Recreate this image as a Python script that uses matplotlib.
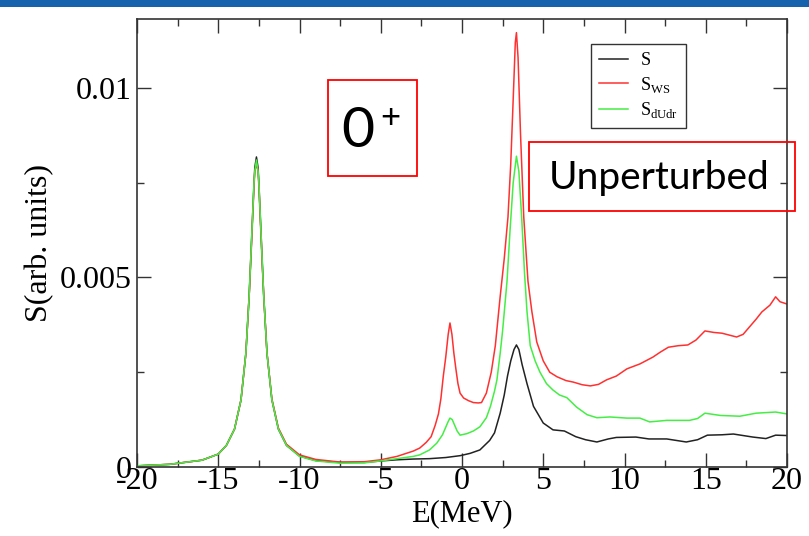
import numpy as np
import matplotlib.pyplot as plt
from matplotlib.patches import Rectangle
from matplotlib.ticker import MultipleLocator

plt.rcParams['font.family'] = ['Liberation Serif', 'DejaVu Serif']
plt.rcParams['mathtext.fontset'] = 'custom'
plt.rcParams['mathtext.rm'] = 'Liberation Serif'
plt.rcParams['axes.unicode_minus'] = False

# S (black)
e_s = [-20, -18, -16, -15, -14.5, -14, -13.6, -13.3, -13.1, -13.0, -12.9, -12.8, -12.75,
       -12.65, -12.55, -12.5, -12.4, -12.3, -12.2, -12.0, -11.7, -11.3, -10.8, -10, -9,
       -7.5, -6, -5, -4, -3, -2, -1, -0.1, 0.5, 1.1, 1.7, 2.0, 2.35, 2.6, 2.8, 3.0, 3.2,
       3.35, 3.5, 3.7, 4.0, 4.4, 5.0, 5.6, 6.3, 7.0, 7.6, 8.3, 9.0, 9.5, 10.7, 11.5, 12.6,
       13.8, 14.5, 15.1, 16.0, 16.7, 17.9, 18.7, 19.3, 20]
s_s = [0.00003, 0.00007, 0.00018, 0.00034, 0.00057, 0.001, 0.00177, 0.003, 0.0045, 0.0055,
       0.0065, 0.0075, 0.0079, 0.00818, 0.0079, 0.0075, 0.0065, 0.0055, 0.0045, 0.003,
       0.00177, 0.001, 0.00057, 0.00029, 0.00017, 0.00012, 0.00012, 0.00016, 0.00019,
       0.00021, 0.00022, 0.00025, 0.0003, 0.00036, 0.00045, 0.0007, 0.0009, 0.00142, 0.0019,
       0.0024, 0.0028, 0.0031, 0.00322, 0.0031, 0.0027, 0.0022, 0.0016, 0.00116, 0.00098,
       0.00095, 0.0008, 0.00072, 0.00066, 0.00074, 0.00078, 0.00079, 0.00074, 0.00074,
       0.00066, 0.00072, 0.00084, 0.00085, 0.00087, 0.00079, 0.00075, 0.00084, 0.00083]

# S_WS (red)
e_ws = [-20, -18, -16, -15, -14.5, -14, -13.6, -13.3, -13.1, -13.0, -12.9, -12.8, -12.75,
        -12.65, -12.55, -12.5, -12.4, -12.3, -12.2, -12.0, -11.7, -11.3, -10.8, -10, -9,
        -7.5, -6, -5, -4, -3, -2.6, -2.2, -1.9, -1.65, -1.45, -1.3, -1.15, -1.0, -0.85,
        -0.74, -0.62, -0.5, -0.38, -0.25, -0.12, 0.1, 0.4, 0.7, 1.0, 1.2, 1.5, 1.8, 2.05,
        2.35, 2.6, 2.83, 3.0, 3.15, 3.28, 3.35, 3.45, 3.6, 3.8, 4.06, 4.3, 4.6, 5.0, 5.4,
        5.85, 6.4, 6.85, 7.4, 7.9, 8.4, 8.9, 9.5, 10.15, 10.95, 11.75, 12.2, 12.7, 13.3,
        13.9, 14.4, 14.95, 15.5, 16.0, 16.9, 17.3, 17.7, 18.1, 18.45, 18.95, 19.3, 19.57, 20]
s_ws = [0.00003, 0.00007, 0.00018, 0.00034, 0.00057, 0.001, 0.00177, 0.003, 0.0045, 0.0054,
        0.0064, 0.0074, 0.0078, 0.0080, 0.0078, 0.0074, 0.0064, 0.0054, 0.0045, 0.003,
        0.0018, 0.00103, 0.0006, 0.00032, 0.0002, 0.00013, 0.00014, 0.00019, 0.00028,
        0.00042, 0.0005, 0.00065, 0.0008, 0.0011, 0.0014, 0.0018, 0.0024, 0.0029, 0.0035,
        0.0038, 0.0035, 0.003, 0.0026, 0.0022, 0.00195, 0.00182, 0.00175, 0.0017, 0.00169,
        0.0017, 0.00195, 0.0025, 0.0032, 0.0045, 0.0055, 0.0066, 0.008, 0.0097, 0.0112,
        0.01146, 0.0108, 0.0088, 0.0066, 0.0049, 0.0041, 0.0033, 0.0028, 0.0025, 0.00238,
        0.00228, 0.00224, 0.00217, 0.00214, 0.00218, 0.0023, 0.0024, 0.00259, 0.00272,
        0.0029, 0.00303, 0.00316, 0.0032, 0.00322, 0.00335, 0.00359, 0.00355, 0.00353,
        0.00343, 0.0035, 0.0037, 0.0039, 0.00409, 0.00427, 0.00449, 0.00436, 0.0043]

# S_dUdr (green)
e_du = [-20, -18, -16, -15, -14.5, -14, -13.6, -13.3, -13.1, -13.0, -12.9, -12.8, -12.75,
        -12.65, -12.55, -12.5, -12.4, -12.3, -12.2, -12.0, -11.7, -11.3, -10.8, -10, -9,
        -7.5, -6, -5, -4, -3, -2.6, -2.0, -1.55, -1.2, -1.0, -0.85, -0.74, -0.6, -0.45,
        -0.3, -0.12, 0.3, 0.7, 1.1, 1.5, 1.75, 2.0, 2.15, 2.35, 2.5, 2.77, 2.95, 3.15, 3.35,
        3.5, 3.67, 3.85, 4.0, 4.2, 4.5, 4.8, 5.2, 5.6, 6.0, 6.45, 7.05, 7.7, 8.3, 9.1, 10.15,
        10.95, 11.55, 12.6, 14.0, 14.5, 14.95, 15.9, 17.1, 18.1, 19.3, 20]
s_du = [0.00003, 0.00007, 0.00018, 0.00034, 0.00057, 0.001, 0.00177, 0.003, 0.0045, 0.0055,
        0.0065, 0.0075, 0.0078, 0.0081, 0.0078, 0.0075, 0.0065, 0.0055, 0.0045, 0.003,
        0.00177, 0.001, 0.00057, 0.00028, 0.00016, 0.0001, 0.00011, 0.00016, 0.00022,
        0.00028, 0.00032, 0.00045, 0.00063, 0.00085, 0.00105, 0.0012, 0.00129, 0.00125,
        0.0011, 0.00095, 0.00084, 0.00088, 0.00095, 0.00106, 0.0013, 0.0016, 0.002, 0.0023,
        0.003, 0.0036, 0.0049, 0.0062, 0.0075, 0.0082, 0.0078, 0.0066, 0.0051, 0.0041,
        0.0032, 0.0028, 0.0025, 0.0022, 0.00203, 0.0019, 0.00183, 0.00158, 0.00138, 0.0013,
        0.00132, 0.00129, 0.00129, 0.00119, 0.00123, 0.00123, 0.00128, 0.00142, 0.00136,
        0.00134, 0.00142, 0.00145, 0.0014]

fig = plt.figure(figsize=(8.09, 5.36), dpi=100)
ax = fig.add_axes([137 / 809, 69 / 536, 650 / 809, 448 / 536])

ax.plot(e_s, s_s, color='#222222', lw=1.1, label='S')
ax.plot(e_ws, s_ws, color='#ff3030', lw=1.1, label=r'S$_{\mathrm{WS}}$')
ax.plot(e_du, s_du, color='#44ee44', lw=1.1, label=r'S$_{\mathrm{dUdr}}$')

ax.set_xlim(-20, 20)
ax.set_ylim(0, 0.01182)
ax.xaxis.set_major_locator(MultipleLocator(5))
ax.xaxis.set_minor_locator(MultipleLocator(2.5))
ax.yaxis.set_major_locator(MultipleLocator(0.005))
ax.yaxis.set_minor_locator(MultipleLocator(0.0025))
ax.yaxis.set_major_formatter(plt.FuncFormatter(lambda v, p: '0' if v == 0 else ('%g' % v)))
ax.tick_params(which='both', direction='in', top=True, right=True, color='#333333', width=1)
ax.tick_params(which='major', length=10, labelsize=23)
ax.tick_params(which='minor', length=5)
ax.tick_params(axis='x', pad=0)
ax.tick_params(axis='y', pad=4)
for sp in ax.spines.values():
    sp.set_color('#333333')
    sp.set_linewidth(1.2)

ax.set_xlabel('E(MeV)', fontsize=22, labelpad=2)
ax.set_ylabel('S(arb. units)', fontsize=23, labelpad=4)

leg = ax.legend(loc='upper left', bbox_to_anchor=(0.698, 0.944), borderaxespad=0,
                fontsize=13, handlelength=1.6, handletextpad=0.7, frameon=True,
                fancybox=False, edgecolor='#333333', framealpha=1, borderpad=0.45,
                labelspacing=0.3)
leg.get_frame().set_linewidth(1)

# slide header band
fig.patches.append(Rectangle((0, 1 - 7 / 536), 1, 7 / 536, transform=fig.transFigure,
                             facecolor='#1562ad', edgecolor='none'))

# red annotation boxes
fig.patches.append(Rectangle((328 / 809, 1 - 176 / 536), 89 / 809, 96 / 536,
                             transform=fig.transFigure, fill=False, edgecolor='red', lw=1.3))
fig.patches.append(Rectangle((529 / 809, 1 - 211 / 536), 266 / 809, 69 / 536,
                             transform=fig.transFigure, fill=False, edgecolor='red', lw=1.3))
fig.text(358 / 809, 1 - 132 / 536, '0', fontsize=41, family='Lato', ha='center', va='center')
fig.text(390 / 809, 1 - 118 / 536, '+', fontsize=25, family='Lato', ha='center', va='center')
fig.text(659 / 809, 1 - 178 / 536, 'Unperturbed', fontsize=28, family='Lato',
         ha='center', va='center')

fig.savefig('out.png', dpi=100)
